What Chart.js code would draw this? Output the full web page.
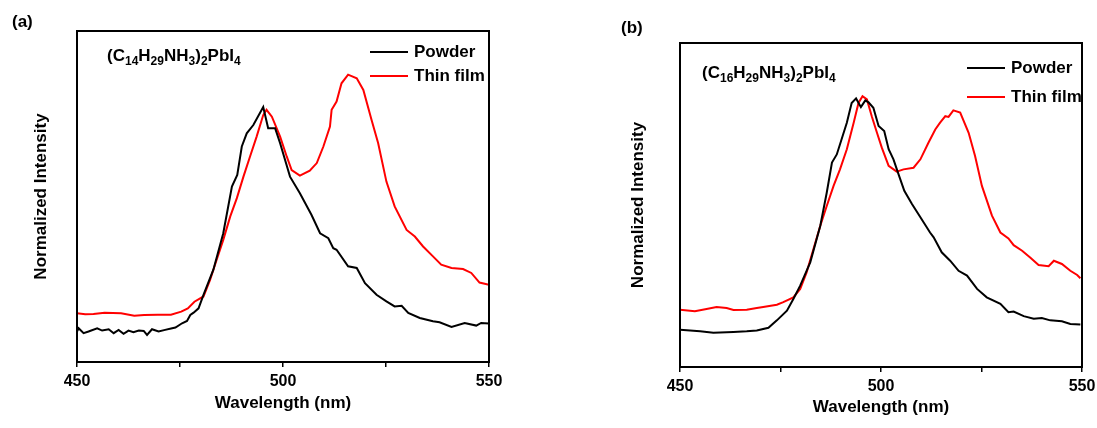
<!DOCTYPE html>
<html>
<head>
<meta charset="utf-8">
<script src="https://cdn.jsdelivr.net/npm/chart.js@4.4.0/dist/chart.umd.min.js"></script>
<style>
    body { margin: 0; background: #fff; width: 1097px; height: 428px; position: relative; overflow: hidden;
           font-family: 'Liberation Sans', Arial, sans-serif; }
    .panel { position: absolute; top: 0; height: 428px; }
    .tag { position: absolute; font-weight: bold; font-size: 17px; line-height: 17px; color: #000; white-space: nowrap; }
    .tag sub { font-size: 12px; line-height: 0; vertical-align: -4px; }
</style>
</head>
<body>
<div class="panel" style="left:0;width:520px"><canvas id="chartA"></canvas></div>
<div class="panel" style="left:580px;width:537px"><canvas id="chartB"></canvas></div>
<div class="tag" style="left:12px;top:13px">(a)</div>
<div class="tag" style="left:621px;top:19px">(b)</div>
<div class="tag" style="left:107px;top:47px">(C<sub>14</sub>H<sub>29</sub>NH<sub>3</sub>)<sub>2</sub>PbI<sub>4</sub></div>
<div class="tag" style="left:702px;top:64px">(C<sub>16</sub>H<sub>29</sub>NH<sub>3</sub>)<sub>2</sub>PbI<sub>4</sub></div>
<script>
// PL spectra, intensity normalized to the plot range
const seriesLabels = ['Powder', 'Thin film'];
const xTickLabels = [450, 500, 550];

// (a) C14 compound
const powderA_nm = [450.0, 450.4, 451.6, 452.8, 454.9, 456.1, 457.7, 458.9, 460.1, 461.3, 462.5, 463.7, 465.0, 466.2,
    467.0, 468.2, 469.8, 471.4, 473.1, 473.9, 475.5, 476.7, 477.5, 478.3, 479.5, 480.7, 483.1, 485.5, 487.6, 488.9,
    490.0, 491.2, 492.8, 495.2, 496.4, 498.1, 499.3, 501.7, 504.1, 506.9, 509.0, 511.0, 512.2, 513.0, 515.8, 517.9,
    519.9, 522.7, 525.1, 527.1, 528.8, 530.4, 533.2, 536.4, 538.0, 540.9, 544.1, 546.9, 548.1, 550.0];
const powderA_int = [0.092, 0.102, 0.087, 0.092, 0.102, 0.095, 0.099, 0.087, 0.097, 0.085, 0.095, 0.090, 0.095, 0.094,
    0.082, 0.099, 0.092, 0.097, 0.102, 0.104, 0.117, 0.124, 0.142, 0.149, 0.162, 0.203, 0.279, 0.389, 0.530, 0.565,
    0.651, 0.691, 0.716, 0.770, 0.706, 0.706, 0.661, 0.560, 0.510, 0.445, 0.389, 0.374, 0.344, 0.339, 0.289, 0.284,
    0.238, 0.203, 0.183, 0.168, 0.170, 0.148, 0.133, 0.123, 0.120, 0.106, 0.118, 0.110, 0.118, 0.116];
const filmA_nm = [450.0, 452.0, 454.0, 456.7, 460.7, 463.9, 466.3, 469.6, 472.8, 475.3, 476.9, 478.5, 480.7, 482.3,
    483.9, 485.5, 487.2, 488.8, 490.4, 492.0, 493.6, 495.2, 496.0, 497.3, 499.3, 500.9, 502.1, 504.1, 506.5, 508.2,
    509.8, 511.4, 511.8, 513.0, 514.2, 515.8, 517.9, 519.5, 521.5, 523.1, 525.1, 527.1, 530.0, 532.0, 534.0, 536.4,
    538.4, 540.9, 543.7, 545.7, 547.7, 550.0];
const filmA_int = [0.147, 0.144, 0.145, 0.149, 0.147, 0.140, 0.142, 0.143, 0.143, 0.152, 0.162, 0.182, 0.198, 0.248,
    0.309, 0.369, 0.440, 0.495, 0.560, 0.621, 0.681, 0.746, 0.762, 0.741, 0.681, 0.621, 0.580, 0.563, 0.578, 0.601,
    0.651, 0.711, 0.762, 0.787, 0.842, 0.868, 0.857, 0.822, 0.731, 0.661, 0.545, 0.470, 0.399, 0.379, 0.349, 0.319,
    0.294, 0.284, 0.281, 0.269, 0.240, 0.233];

// (b) C16 compound
const powderB_nm = [450.0, 455.0, 458.3, 463.3, 466.6, 469.1, 472.0, 474.1, 476.6, 478.2, 479.9, 482.4, 484.9, 486.5,
    487.8, 489.0, 490.2, 491.5, 492.7, 493.8, 495.0, 496.1, 496.9, 498.1, 499.4, 500.8, 501.9, 503.1, 504.5, 505.8,
    507.7, 509.8, 512.2, 513.1, 515.1, 517.2, 519.3, 521.4, 523.9, 526.3, 529.7, 531.7, 533.0, 535.5, 538.0, 540.0,
    542.1, 545.0, 547.1, 549.6];
const powderB_int = [0.115, 0.110, 0.106, 0.108, 0.110, 0.113, 0.121, 0.144, 0.174, 0.210, 0.251, 0.323, 0.436, 0.538,
    0.631, 0.656, 0.703, 0.754, 0.815, 0.829, 0.802, 0.823, 0.817, 0.800, 0.744, 0.728, 0.672, 0.641, 0.590, 0.544,
    0.503, 0.462, 0.415, 0.400, 0.354, 0.328, 0.297, 0.282, 0.241, 0.215, 0.195, 0.169, 0.171, 0.157, 0.149, 0.151,
    0.144, 0.141, 0.133, 0.131];
const filmB_nm = [450.0, 453.7, 456.6, 459.1, 461.6, 463.3, 466.6, 469.1, 470.7, 474.1, 475.7, 478.2, 479.9, 481.5,
    483.2, 484.9, 486.5, 488.2, 489.8, 491.5, 493.2, 494.4, 495.4, 496.5, 497.7, 499.0, 500.2, 501.9, 503.9, 505.6,
    508.1, 509.8, 511.8, 513.5, 514.7, 516.0, 516.8, 518.0, 519.7, 521.8, 523.4, 525.1, 527.6, 529.7, 531.7, 533.0,
    535.1, 537.1, 539.2, 541.7, 543.0, 545.0, 547.1, 548.8, 549.6];
const filmB_int = [0.177, 0.172, 0.179, 0.185, 0.182, 0.176, 0.177, 0.182, 0.185, 0.192, 0.200, 0.215, 0.241, 0.292,
    0.364, 0.436, 0.497, 0.559, 0.610, 0.672, 0.754, 0.815, 0.836, 0.826, 0.774, 0.723, 0.677, 0.621, 0.603, 0.610,
    0.615, 0.641, 0.692, 0.733, 0.754, 0.774, 0.772, 0.792, 0.785, 0.723, 0.651, 0.559, 0.467, 0.415, 0.397, 0.376,
    0.359, 0.338, 0.315, 0.311, 0.328, 0.318, 0.297, 0.284, 0.274];

const lineColors = ['#000000', '#ff0000'];
Chart.defaults.font.family = "'Liberation Sans', Arial, sans-serif";
Chart.defaults.color = '#000';

function toPoints(xs, ys) {
    return xs.map((x, i) => ({x: x, y: ys[i]}));
}

// box around the plot area plus the line legend in the upper right
const frameLegend = {
    id: 'frameLegend',
    afterDatasetsDraw(chart, args, opts) {
        const {ctx, chartArea: a} = chart;
        ctx.save();
        ctx.strokeStyle = '#000';
        ctx.lineWidth = 2;
        ctx.strokeRect(a.left, a.top, a.right - a.left, a.bottom - a.top);
        ctx.font = 'bold 17px "Liberation Sans", Arial, sans-serif';
        ctx.textBaseline = 'middle';
        chart.data.datasets.forEach((ds, i) => {
            const y = opts.y + i * opts.rowGap;
            ctx.strokeStyle = ds.borderColor;
            ctx.beginPath();
            ctx.moveTo(opts.x, y);
            ctx.lineTo(opts.x + opts.lineLength, y);
            ctx.stroke();
            ctx.fillStyle = '#000';
            ctx.fillText(ds.label, opts.x + opts.lineLength + 6, y);
        });
        ctx.restore();
    }
};

function makeChart(id, powder, film, box) {
    return new Chart(document.getElementById(id), {
        type: 'line',
        data: {
            datasets: [
                {label: seriesLabels[0], data: powder, borderColor: lineColors[0], borderWidth: 2},
                {label: seriesLabels[1], data: film, borderColor: lineColors[1], borderWidth: 2}
            ]
        },
        options: {
            responsive: true,
            maintainAspectRatio: false,
            animation: false,
            elements: {point: {radius: 0}, line: {tension: 0}},
            layout: {padding: {left: 0, top: box.top, right: box.right, bottom: 0}},
            plugins: {
                legend: {display: false},
                tooltip: {enabled: false},
                frameLegend: box.legend
            },
            scales: {
                x: {
                    type: 'linear',
                    min: 450,
                    max: 550,
                    afterFit: s => { s.height = box.xHeight; },
                    border: {display: true, color: '#000', width: 2},
                    grid: {drawOnChartArea: false, drawTicks: true, tickLength: 5, color: '#000', lineWidth: 1.5},
                    ticks: {
                        stepSize: 25,
                        autoSkip: false,
                        maxRotation: 0,
                        padding: 5,
                        font: {size: 16, weight: 'bold'},
                        callback: v => xTickLabels.includes(v) ? String(v) : ''
                    },
                    title: {display: true, text: 'Wavelength (nm)', font: {size: 17, weight: 'bold'},
                            padding: {top: 0, bottom: box.xTitlePad}}
                },
                y: {
                    min: 0,
                    max: 1,
                    afterFit: s => { s.width = box.yWidth; },
                    border: {display: true, color: '#000', width: 2},
                    grid: {display: false},
                    ticks: {display: false},
                    title: {display: true, text: 'Normalized Intensity', font: {size: 17, weight: 'bold'},
                            padding: {top: box.yTitlePad, bottom: 0}}
                }
            }
        },
        plugins: [frameLegend]
    });
}

makeChart('chartA', toPoints(powderA_nm, powderA_int), toPoints(filmA_nm, filmA_int), {
    top: 31, right: 31, xHeight: 66, yWidth: 77, xTitlePad: 14, yTitlePad: 31,
    legend: {x: 370, y: 52, lineLength: 38, rowGap: 24}
});
makeChart('chartB', toPoints(powderB_nm, powderB_int), toPoints(filmB_nm, filmB_int), {
    top: 43, right: 35, xHeight: 61, yWidth: 100, xTitlePad: 10, yTitlePad: 48,
    legend: {x: 387, y: 68, lineLength: 38, rowGap: 29}
});
</script>
</body>
</html>
